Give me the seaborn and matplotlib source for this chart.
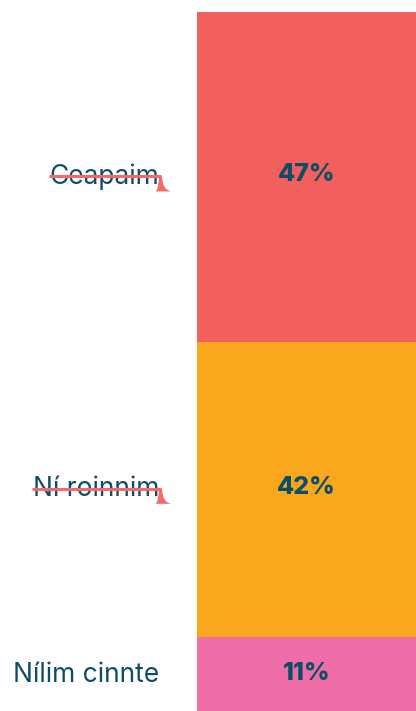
import matplotlib
matplotlib.use("Agg")
import matplotlib.pyplot as plt
import seaborn as sns
from matplotlib.patches import PathPatch
from matplotlib.path import Path

categories = ["Ceapaim", "Ní roinnim", "Nílim cinnte"]
values = [47, 42, 11]
labels = ["47%", "42%", "11%"]
struck = [True, True, False]
colors = ["#F25F5C", "#F9A81D", "#F06EA8"]
text_color = "#0E4D66"
strike_color = "#F46A6A"

sns.set_theme(style="white")
plt.rcParams["font.family"] = ["Inter", "DejaVu Sans"]

W, H = 416, 711
fig = plt.figure(figsize=(W / 100, H / 100), dpi=100)
ax = fig.add_axes([197 / W, -3 / H, 1 - 197 / W, 702 / H])

bottom = 0
centers = []
for cat, val, col, lab in zip(categories, values, colors, labels):
    sns.barplot(x=[0], y=[val], bottom=bottom, color=col, width=1.0,
                saturation=1, ax=ax, linewidth=0)
    c = bottom + val / 2
    centers.append(c)
    ax.text(0, c - 0.3, lab, ha="center", va="center", fontsize=18,
            fontweight="heavy", color=text_color)
    bottom += val

ax.set_xlim(-0.5, 0.5)
ax.set_ylim(100, 0)
ax.set_yticks([c - 0.5 for c in centers])
ax.set_yticklabels(categories, fontsize=19, color=text_color)
ax.tick_params(axis="y", length=0, pad=27)
ax.set_xticks([])
ax.set_xlabel("")
ax.set_ylabel("")
for s in ax.spines.values():
    s.set_visible(False)

fig.canvas.draw()
renderer = fig.canvas.get_renderer()
for tl, st in zip(ax.get_yticklabels(), struck):
    if not st:
        continue
    bb = tl.get_window_extent(renderer)
    ymid = bb.y0 + bb.height * 0.5
    x0 = bb.x0 - 1
    x1 = bb.x1 + 1
    line = plt.Line2D([x0, x1], [ymid, ymid], transform=None,
                      color=strike_color, linewidth=2.2,
                      solid_capstyle="butt")
    fig.add_artist(line)
    # drip hook flaring down from the right end
    t = ymid
    b = ymid - 15
    verts = [(x1 - 1.5, t), (x1 + 1.5, t),
             (x1 + 2, b + 1), (x1 + 11, b),
             (x1 - 5, b),
             (x1 - 2, b + 2), (x1 - 1.5, t),
             (x1 - 1.5, t)]
    codes = [Path.MOVETO, Path.LINETO,
             Path.CURVE3, Path.CURVE3,
             Path.LINETO,
             Path.CURVE3, Path.CURVE3,
             Path.CLOSEPOLY]
    patch = PathPatch(Path(verts, codes), transform=None,
                      facecolor=strike_color, edgecolor="none")
    fig.add_artist(patch)

fig.savefig("out.png", dpi=100)
